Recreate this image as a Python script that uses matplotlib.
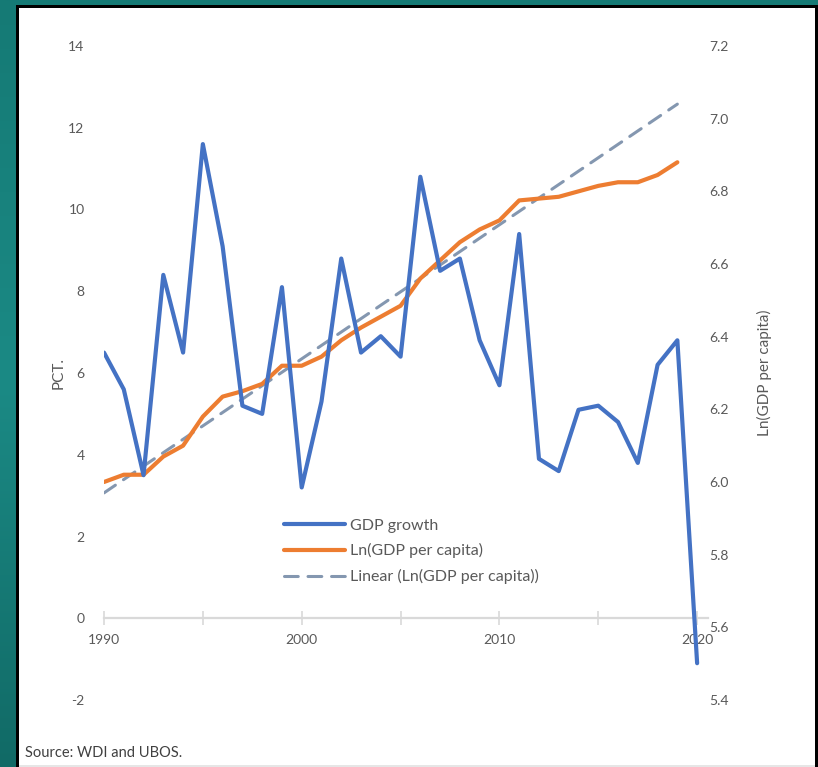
import numpy as np
import matplotlib
matplotlib.use("Agg")
import matplotlib.pyplot as plt
from matplotlib.patches import Rectangle
from matplotlib.ticker import MultipleLocator

plt.rcParams['font.family'] = ['Lato', 'DejaVu Sans']

# ---- data -------------------------------------------------------------
years = list(range(1990, 2021))
gdp_growth = [6.5, 5.6, 3.5, 8.4, 6.5, 11.6, 9.1, 5.2, 5.0, 8.1,
              3.2, 5.3, 8.8, 6.5, 6.9, 6.4, 10.8, 8.5, 8.8, 6.8,
              5.7, 9.4, 3.9, 3.6, 5.1, 5.2, 4.8, 3.8, 6.2, 6.8,
              -1.1]
ln_years = list(range(1990, 2020))
ln_gdp_pc = [6.00, 6.02, 6.02, 6.07, 6.10, 6.18, 6.235, 6.25, 6.27, 6.32,
             6.32, 6.345, 6.39, 6.425, 6.455, 6.485, 6.56, 6.61, 6.66, 6.695,
             6.72, 6.775, 6.78, 6.785, 6.80, 6.815, 6.825, 6.825, 6.845, 6.88]
trend_years = [1990, 2019]
trend_values = [5.97, 7.04]

left_ticks = [-2, 0, 2, 4, 6, 8, 10, 12, 14]
right_ticks = [5.4, 5.6, 5.8, 6.0, 6.2, 6.4, 6.6, 6.8, 7.0, 7.2]
year_labels = [1990, 2000, 2010, 2020]

W, H = 818, 767
fig = plt.figure(figsize=(W / 100, H / 100), dpi=100)

# teal backdrop with a soft vertical gradient
bg = fig.add_axes([0, 0, 1, 1], zorder=-10)
bg.set_axis_off()
top_c = np.array([0x15, 0x7a, 0x75]) / 255
mid_c = np.array([0x1b, 0x8a, 0x85]) / 255
bot_c = np.array([0x11, 0x6a, 0x66]) / 255
t = np.linspace(0, 1, 256)[:, None]
grad = np.where(t < 0.5,
                top_c + (mid_c - top_c) * (t / 0.5),
                mid_c + (bot_c - mid_c) * ((t - 0.5) / 0.5))
bg.imshow(grad[:, None, :].repeat(4, axis=1), aspect='auto',
          extent=[0, 1, 0, 1], origin='upper')
bg.set_xlim(0, 1)
bg.set_ylim(0, 1)

# black frame and white panel
def px_rect(x0, y0, x1, y1, color):
    return Rectangle((x0 / W, 1 - y1 / H), (x1 - x0) / W, (y1 - y0) / H,
                     transform=fig.transFigure, facecolor=color,
                     edgecolor='none', zorder=-5)

fig.patches.append(px_rect(16, 5, 818, 767, 'black'))
fig.patches.append(px_rect(19, 8, 815, 767, 'white'))
fig.patches.append(px_rect(19, 765, 815, 767, '#e6e6e6'))

# ---- main chart -------------------------------------------------------
ax = fig.add_axes([104 / W, 1 - 700 / H, (708 - 104) / W, (700 - 46) / H])
ax.set_facecolor('none')
ax2 = ax.twinx()

text_c = '#595959'

l1, = ax.plot(years, gdp_growth, color='#4472c4', lw=3.0,
              solid_joinstyle='round', solid_capstyle='round', zorder=3)
l2, = ax2.plot(ln_years, ln_gdp_pc, color='#ed7d31', lw=3.0,
               solid_joinstyle='round', solid_capstyle='round', zorder=3)
l3, = ax2.plot(trend_years, trend_values, color='#8497b0', lw=2.2,
               dashes=(4.5, 3.2), dash_capstyle='round', zorder=2)
ax.set_zorder(ax2.get_zorder() + 1)

ax.set_xlim(1990, 2020.55)
ax.set_ylim(-2, 14)
ax2.set_ylim(5.4, 7.2)

for a in (ax, ax2):
    for s in ('top', 'left', 'right'):
        a.spines[s].set_visible(False)
ax2.spines['bottom'].set_visible(False)

ax.spines['bottom'].set_position(('data', 0))
ax.spines['bottom'].set_color('#d9d9d9')
ax.spines['bottom'].set_linewidth(1.6)
ax.spines['bottom'].set_zorder(1)

ax.xaxis.set_minor_locator(MultipleLocator(5))
ax.set_xticks(year_labels)
ax.set_xticklabels([str(y) for y in year_labels])
ax.tick_params(axis='x', which='both', direction='inout', length=10,
               width=1.2, color='#d9d9d9', labelsize=10, labelcolor=text_c,
               pad=6)

ax.set_yticks(left_ticks)
ax.set_yticklabels([str(v) for v in left_ticks])
ax.tick_params(axis='y', length=0, labelsize=10, labelcolor=text_c, pad=14)

ax2.set_yticks(right_ticks)
ax2.set_yticklabels([f"{v:.1f}" for v in right_ticks])
ax2.tick_params(axis='y', length=0, labelsize=10, labelcolor=text_c, pad=1)

ax.set_ylabel('PCT.', fontsize=11, color=text_c, labelpad=2)
ax2.set_ylabel('Ln(GDP per capita)', fontsize=11, color=text_c, labelpad=20)

leg = ax.legend([l1, l2, l3],
                ['GDP growth', 'Ln(GDP per capita)', 'Linear (Ln(GDP per capita))'],
                loc='upper left', bbox_to_anchor=((278 - 104) / (708 - 104),
                                                  1 - (512 - 46) / (700 - 46)),
                frameon=False, fontsize=11.5, handlelength=3.8,
                handletextpad=0.3, labelspacing=0.68, borderaxespad=0)
for txt in leg.get_texts():
    txt.set_color(text_c)

fig.text(25 / W, 1 - 753 / H, 'Source: WDI and UBOS.', fontsize=10.5,
         color='#404040', va='center', ha='left')

fig.savefig('out.png', dpi=100)
